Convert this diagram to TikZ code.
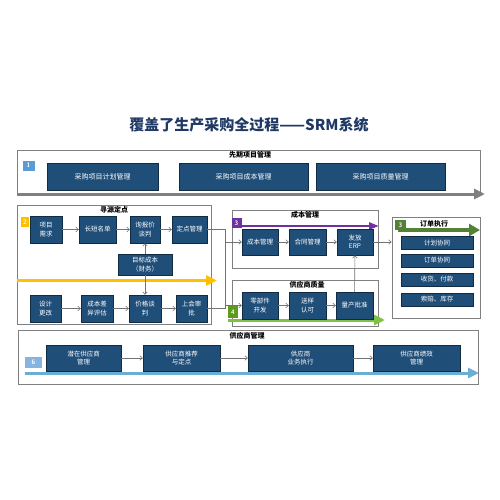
\documentclass[tikz,border=0pt]{standalone}
\usepackage{fontspec}
\newfontfamily\cjk{Noto Sans CJK SC}
\usetikzlibrary{arrows.meta}

\definecolor{navy}{HTML}{1F4E79}
\definecolor{title blue}{HTML}{1F3864}
\definecolor{flow yellow}{HTML}{FFC000}
\definecolor{flow purple}{HTML}{7030A0}
\definecolor{flow green}{HTML}{7DC242}
\definecolor{badge green}{HTML}{5E9A1E}
\definecolor{order green}{HTML}{548235}
\definecolor{flow blue}{HTML}{6AAED6}
\definecolor{badge blue}{HTML}{5B9BD5}

\tikzstyle{frame}=[draw=black!50, line width=0.8pt, inner sep=0pt]
\tikzstyle{task}=[draw=navy!55!black, fill=navy, text=white, align=center, inner sep=0pt, minimum height=27pt, font=\cjk\fontsize{6.5}{8.5}\selectfont]
\tikzstyle{section}=[font=\cjk\bfseries\fontsize{7}{8}\selectfont, inner sep=0pt]
\tikzstyle{badge}=[text=white, inner sep=0pt, minimum width=10pt, minimum height=10pt, font=\sffamily\bfseries\fontsize{6.5}{7}\selectfont]
\tikzstyle{link}=[draw=black!55, line width=0.6pt, -{Straight Barb[length=2.5pt,width=4.5pt]}]
\tikzstyle{flow}=[line width=3pt, -{Triangle[length=11pt,width=10pt]}]

\begin{document}
\begin{tikzpicture}[x=1pt,y=-1pt]
	\useasboundingbox[fill=white] (0,0) rectangle (500,500);

	\node[font=\cjk\bfseries\fontsize{15}{17}\selectfont, text=title blue] (title) at (249,125) {覆盖了生产采购全过程——SRM系统};

	\node[frame, minimum width=463pt, minimum height=45pt] (f1) at (248.5,172.5) {};
	\node[frame, minimum width=194pt, minimum height=119pt] (f2) at (114,264.5) {};
	\node[frame, minimum width=146pt, minimum height=58pt] (f3) at (305,239) {};
	\node[frame, minimum width=146pt, minimum height=46pt] (f4) at (305,303) {};
	\node[frame, minimum width=88pt, minimum height=101pt] (f5) at (436,267.5) {};
	\node[frame, minimum width=460pt, minimum height=54pt] (f6) at (248,357) {};

	\coordinate (G1) at (17,194);   \coordinate (G2) at (485,194);
	\coordinate (Y1) at (17,280.5); \coordinate (Y2) at (217,280.5);
	\coordinate (P1) at (236,226);  \coordinate (P2) at (379,226);
	\coordinate (N1) at (228,320);  \coordinate (N2) at (385,320);
	\coordinate (O1) at (398,230);  \coordinate (O2) at (480,230);
	\coordinate (B1) at (25,373);   \coordinate (B2) at (479,373);

	\draw[flow, draw=black!50, fill=black!50] (G1) -- (G2);
	\draw[flow, draw=flow yellow, fill=flow yellow, line width=3.5pt] (Y1) -- (Y2);
	\draw[flow, draw=flow purple, fill=flow purple, line width=2.5pt, -{Triangle[length=10pt,width=7pt]}] (P1) -- (P2);
	\draw[flow, draw=flow green, fill=flow green] (N1) -- (N2);
	\draw[flow, draw=order green, fill=order green, line width=3.5pt, -{Triangle[length=11pt,width=12pt]}] (O1) -- (O2);
	\draw[flow, draw=flow blue, fill=flow blue] (B1) -- (B2);

	\node[section] (s1) at (250,154.5) {先期项目管理};
	\node[section] (s2) at (114,210) {寻源定点};
	\node[section] (s3) at (305,215) {成本管理};
	\node[section] (s4) at (307,284.5) {供应商质量};
	\node[section] (s5) at (434,224) {订单执行};
	\node[section] (s6) at (247,335.5) {供应商管理};

	\node[badge, fill=badge blue, minimum width=12pt] (n1) at (28.5,165.5) {1};
	\node[badge, fill=flow yellow, minimum width=8pt] (n2) at (25,222) {2};
	\node[badge, fill=flow purple] (n3) at (236.5,223) {3};
	\node[badge, fill=badge green, minimum height=12pt] (n4) at (233,312) {4};
	\node[badge, fill=order green, minimum width=11pt] (n5) at (400.5,225) {3};
	\node[badge, fill=badge blue!75, minimum width=17pt, minimum height=11pt] (n6) at (33.5,362.5) {6};

	\node[task, minimum width=111pt, font=\cjk\fontsize{7}{8}\selectfont] (jhgl) at (102.5,177) {采购项目计划管理};
	\node[task, minimum width=129pt, font=\cjk\fontsize{7}{8}\selectfont] (cbgl1) at (243.5,177) {采购项目成本管理};
	\node[task, minimum width=129pt, font=\cjk\fontsize{7}{8}\selectfont] (zlgl) at (380.5,177) {采购项目质量管理};

	\node[task, minimum width=32pt] (xmxq) at (46,229.5) {项目\\需求};
	\node[task, minimum width=37pt] (cdmd) at (97.5,229.5) {长短名单};
	\node[task, minimum width=30pt] (xbj) at (145,229.5) {询报价\\谈判};
	\node[task, minimum width=35pt] (ddgl) at (189.5,229.5) {定点管理};
	\node[task, minimum width=54pt, minimum height=21pt] (mbcb) at (145,264.5) {目标成本\\（财务）};
	\node[task, minimum width=31pt] (sjgg) at (45.5,308.5) {设计\\更改};
	\node[task, minimum width=32pt] (cbcy) at (97,308.5) {成本差\\异评估};
	\node[task, minimum width=32pt] (jgtp) at (145,308.5) {价格谈\\判};
	\node[task, minimum width=31pt] (shsp) at (191.5,308.5) {上会审\\批};

	\node[task, minimum width=36pt, minimum height=26pt] (cbgl) at (260,242) {成本管理};
	\node[task, minimum width=37pt, minimum height=26pt] (htgl) at (307.5,242) {合同管理};
	\node[task, minimum width=36pt, minimum height=26pt] (erp) at (355,242) {发放\\ERP};

	\node[task] (lbj) at (260,305.5) [minimum width=36pt] {零部件\\开发};
	\node[task] (syrk) at (307.5,305.5) [minimum width=37pt] {送样\\认可};
	\node[task] (lcpz) at (354.5,305.5) [minimum width=37pt] {量产批准};

	\node[task, minimum width=72pt, minimum height=13pt] (jhxt) at (437,243) {计划协同};
	\node[task, minimum width=72pt, minimum height=13pt] (ddxt) at (437,260.5) {订单协同};
	\node[task, minimum width=72pt, minimum height=13pt] (shfk) at (437,279.5) {收货、付款};
	\node[task, minimum width=72pt, minimum height=13pt] (sbkc) at (437,299.5) {索赔、库存};

	\node[task, minimum width=75pt, minimum height=26pt] (qzgys) at (83.5,358) {潜在供应商\\管理};
	\node[task, minimum width=77pt, minimum height=26pt] (gystj) at (181.5,358) {供应商推荐\\与定点};
	\node[task, minimum width=105pt, minimum height=26pt] (gyszx) at (300.5,358) {供应商\\业务执行};
	\node[task, minimum width=87pt, minimum height=26pt] (gysjx) at (416.5,358) {供应商绩效\\管理};

	\draw[link] (xmxq) -- (cdmd);
	\draw[link] (cdmd) -- (xbj);
	\draw[link] (xbj) -- (ddgl);
	\draw[link] (sjgg) -- (cbcy);
	\draw[link] (cbcy) -- (jgtp);
	\draw[link] (jgtp) -- (shsp);
	\draw[link] (mbcb) -- (xbj);
	\draw[link] (mbcb) -- (jgtp);

	\coordinate (jn) at (225,0);
	\draw[link] (ddgl.east) -- (ddgl.east -| jn) |- (lbj.west);
	\draw[link] (shsp.east) -- (shsp.east -| jn) |- (cbgl.west);

	\draw[link] (cbgl) -- (htgl);
	\draw[link] (htgl) -- (erp);
	\draw[link] (lbj) -- (syrk);
	\draw[link] (syrk) -- (lcpz);
	\draw[link] (lcpz) -- (erp);
	\draw[link] (erp.east) -- (erp.east -| f5.west);

	\draw[link] (qzgys) -- (gystj);
	\draw[link] (gystj) -- (gyszx);
	\draw[link] (gyszx) -- (gysjx);
\end{tikzpicture}
\end{document}
